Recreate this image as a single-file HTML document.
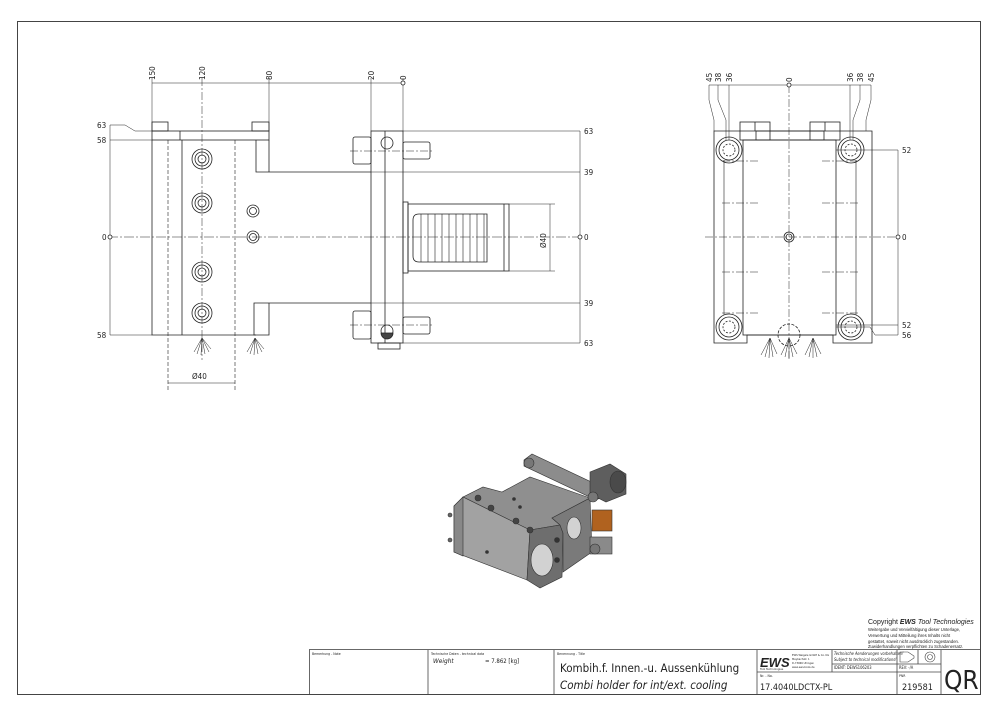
<!DOCTYPE html>
<html><head><meta charset="utf-8"><style>
html,body{margin:0;padding:0;background:#fff;}
svg{display:block;font-family:"DejaVu Sans Condensed","Liberation Sans",sans-serif;}
</style></head><body>
<svg width="1000" height="715" viewBox="0 0 1000 715" xmlns="http://www.w3.org/2000/svg">
<rect x="0" y="0" width="1000" height="715" fill="#fff"/>
<rect x="17.5" y="21.5" width="963" height="673" fill="none" stroke="#444" stroke-width="1"/>

<!-- FRONT VIEW -->
<g stroke="#222" stroke-width="0.8" fill="none">
  <line x1="152" y1="83" x2="403" y2="83" stroke-width="0.5"/>
  <g stroke-width="0.5">
    <line x1="152" y1="78" x2="152" y2="131"/>
    <line x1="202" y1="78" x2="202" y2="360" stroke-dasharray="8,2,2,2"/>
    <line x1="269" y1="78" x2="269" y2="131"/>
    <line x1="371" y1="78" x2="371" y2="131"/>
    <line x1="403" y1="78" x2="403" y2="131"/>
  </g>
  <circle cx="403" cy="83" r="2" fill="#fff"/>
  <g stroke-width="0.5">
    <line x1="110" y1="125" x2="125" y2="125"/><line x1="125" y1="125" x2="135" y2="131"/><line x1="135" y1="131" x2="152" y2="131"/>
    <line x1="110" y1="140" x2="152" y2="140"/>
    <line x1="110" y1="335" x2="152" y2="335"/>
    <line x1="110" y1="125" x2="110" y2="335"/>
    <line x1="108" y1="237" x2="580" y2="237" stroke-dasharray="10,2,2,2"/>
  </g>
  <circle cx="110" cy="237" r="2" fill="#fff"/>
  <rect x="152" y="131" width="117" height="9"/>
  <rect x="152" y="122" width="16" height="9"/>
  <rect x="252" y="122" width="17" height="9"/>
  <line x1="180" y1="131" x2="180" y2="140"/>
  <polyline points="152,140 152,335 256,335"/>
  <line x1="182" y1="140" x2="182" y2="335"/>
  <line x1="168" y1="140" x2="168" y2="390" stroke-dasharray="4,2" stroke-width="0.6"/>
  <line x1="235" y1="140" x2="235" y2="390" stroke-dasharray="4,2" stroke-width="0.6"/>
  <polyline points="256,140 256,172 371,172"/>
  <line x1="269" y1="140" x2="269" y2="172"/>
  <polyline points="371,303 254,303 254,335 269,335 269,303"/>
  <g>
    <circle cx="202" cy="159" r="10"/><circle cx="202" cy="159" r="7"/><circle cx="202" cy="159" r="4"/>
    <circle cx="202" cy="203" r="10"/><circle cx="202" cy="203" r="7"/><circle cx="202" cy="203" r="4"/>
    <circle cx="202" cy="272" r="10"/><circle cx="202" cy="272" r="7"/><circle cx="202" cy="272" r="4"/>
    <circle cx="202" cy="313" r="10"/><circle cx="202" cy="313" r="7"/><circle cx="202" cy="313" r="4"/>
    <circle cx="253" cy="211" r="6"/><circle cx="253" cy="211" r="3.5"/>
    <circle cx="253" cy="237" r="6"/><circle cx="253" cy="237" r="3.5"/>
  </g>
  <g stroke-width="0.5">
    <path d="M202,338 L194,352 M202,338 L197,354 M202,338 L201,355 M202,338 L205,354 M202,338 L209,352 M202,338 L211,349"/>
    <path d="M255,338 L247,352 M255,338 L250,354 M255,338 L254,355 M255,338 L258,354 M255,338 L262,352 M255,338 L264,349"/>
  </g>
  <line x1="168" y1="383" x2="235" y2="383" stroke-width="0.5"/>
  <rect x="371" y="131" width="32" height="212"/>
  <line x1="385" y1="131" x2="385" y2="343"/>
  <rect x="378" y="343" width="22" height="6"/>
  <circle cx="387" cy="143" r="6"/>
  <circle cx="387" cy="331" r="6"/>
  <path d="M381,333 a6,6 0 0 0 12,0 z" fill="#444"/>
  <rect x="353" y="137" width="18" height="27" rx="2"/>
  <rect x="403" y="142" width="27" height="17" rx="2"/>
  <rect x="353" y="311" width="18" height="28" rx="2"/>
  <rect x="403" y="317" width="27" height="17" rx="2"/>
  <line x1="350" y1="151" x2="432" y2="151" stroke-width="0.5" stroke-dasharray="8,2,2,2"/>
  <line x1="350" y1="325" x2="432" y2="325" stroke-width="0.5" stroke-dasharray="8,2,2,2"/>
  <rect x="403" y="202" width="5" height="71"/>
  <rect x="408" y="204" width="101" height="67"/>
  <line x1="504" y1="204" x2="504" y2="271"/>
  <path d="M413,220 q0,-6 6,-6 h68 v48 h-68 q-6,0 -6,-6 z"/>
  <g stroke-width="0.6">
    <line x1="421" y1="214" x2="421" y2="262"/><line x1="428" y1="214" x2="428" y2="262"/>
    <line x1="435" y1="214" x2="435" y2="262"/><line x1="442" y1="214" x2="442" y2="262"/>
    <line x1="449" y1="214" x2="449" y2="262"/><line x1="456" y1="214" x2="456" y2="262"/>
    <line x1="463" y1="214" x2="463" y2="262"/><line x1="470" y1="214" x2="470" y2="262"/>
    <line x1="477" y1="214" x2="477" y2="262"/><line x1="484" y1="214" x2="484" y2="262"/>
  </g>
  <line x1="550" y1="204" x2="550" y2="271" stroke-width="0.5"/>
  <line x1="509" y1="204" x2="555" y2="204" stroke-width="0.5"/>
  <line x1="509" y1="271" x2="555" y2="271" stroke-width="0.5"/>
  <g stroke-width="0.5">
    <line x1="403" y1="131" x2="580" y2="131"/>
    <line x1="371" y1="172" x2="580" y2="172"/>
    <line x1="371" y1="303" x2="580" y2="303"/>
    <line x1="403" y1="343" x2="580" y2="343"/>
    <line x1="580" y1="131" x2="580" y2="343"/>
  </g>
  <circle cx="580" cy="237" r="2" fill="#fff"/>
</g>
<g font-size="8" fill="#222">
  <text transform="translate(155,80) rotate(-90)">150</text>
  <text transform="translate(205,80) rotate(-90)">120</text>
  <text transform="translate(272,80) rotate(-90)">80</text>
  <text transform="translate(374,80) rotate(-90)">20</text>
  <text transform="translate(406,80) rotate(-90)">0</text>
  <text x="97" y="128">63</text><text x="97" y="143">58</text>
  <text x="102" y="240">0</text><text x="97" y="338">58</text>
  <text x="584" y="134">63</text><text x="584" y="175">39</text>
  <text x="584" y="240">0</text><text x="584" y="306">39</text>
  <text x="584" y="346">63</text>
  <text transform="translate(546,248) rotate(-90)">Ø40</text>
  <text x="192" y="379">Ø40</text>
</g>

<!-- SIDE VIEW -->
<g stroke="#222" stroke-width="0.8" fill="none">
  <line x1="709" y1="85" x2="871" y2="85" stroke-width="0.5"/>
  <g stroke-width="0.5">
    <path d="M709,85 L709,100 L714,120 L714,131"/>
    <path d="M718,85 L718,100 L726,120 L726,140"/>
    <path d="M729,85 L729,140"/>
    <path d="M850,85 L850,140"/>
    <path d="M860,85 L860,100 L853,120 L853,140"/>
    <path d="M871,85 L871,100 L866,120 L866,131"/>
    <line x1="789" y1="85" x2="789" y2="360" stroke-dasharray="8,2,2,2"/>
    <line x1="705" y1="237" x2="898" y2="237" stroke-dasharray="8,2,2,2"/>
    <line x1="836" y1="150" x2="898" y2="150"/>
    <line x1="836" y1="325" x2="898" y2="325"/>
    <path d="M836,327 L870,327 L875,335 L898,335"/>
    <line x1="898" y1="150" x2="898" y2="335"/>
  </g>
  <circle cx="789" cy="85" r="2" fill="#fff"/>
  <circle cx="898" cy="237" r="2" fill="#fff"/>
  <rect x="740" y="122" width="30" height="18"/><rect x="810" y="122" width="30" height="18"/>
  <line x1="755" y1="122" x2="755" y2="131"/><line x1="825" y1="122" x2="825" y2="131"/>
  <rect x="756" y="131" width="68" height="9"/>
  <path d="M714,131 H872 V343 H833 V335 H747 V343 H714 Z"/>
  <rect x="743" y="140" width="93" height="195"/>
  <line x1="724" y1="160" x2="724" y2="315" stroke-width="0.6"/>
  <line x1="856" y1="160" x2="856" y2="315" stroke-width="0.6"/>
  <g>
    <circle cx="729" cy="150" r="13"/><circle cx="729" cy="150" r="10"/><circle cx="729" cy="150" r="6" stroke-dasharray="2,1.5"/>
    <circle cx="851" cy="150" r="13"/><circle cx="851" cy="150" r="10"/><circle cx="851" cy="150" r="6" stroke-dasharray="2,1.5"/>
    <circle cx="729" cy="327" r="13"/><circle cx="729" cy="327" r="10"/><circle cx="729" cy="327" r="6" stroke-dasharray="2,1.5"/>
    <circle cx="851" cy="327" r="13"/><circle cx="851" cy="327" r="10"/><circle cx="851" cy="327" r="6" stroke-dasharray="2,1.5"/>
    <circle cx="789" cy="237" r="5"/><circle cx="789" cy="237" r="3"/>
    <circle cx="789" cy="335" r="11" stroke-dasharray="3,1.5"/>
  </g>
  <g stroke-width="0.5" stroke-dasharray="8,2,2,2">
    <line x1="722" y1="161" x2="758" y2="161"/><line x1="822" y1="161" x2="858" y2="161"/>
    <line x1="722" y1="203" x2="758" y2="203"/><line x1="822" y1="203" x2="858" y2="203"/>
    <line x1="722" y1="272" x2="758" y2="272"/><line x1="822" y1="272" x2="858" y2="272"/>
    <line x1="722" y1="313" x2="758" y2="313"/><line x1="822" y1="313" x2="858" y2="313"/>
  </g>
  <g stroke-width="0.5">
    <path d="M770,338 L761,355 M770,338 L765,357 M770,338 L769,358 M770,338 L773,357 M770,338 L777,354"/>
    <path d="M789,338 L781,355 M789,338 L785,357 M789,338 L789,358 M789,338 L793,357 M789,338 L797,354"/>
    <path d="M813,338 L805,355 M813,338 L809,357 M813,338 L813,358 M813,338 L817,357 M813,338 L821,354"/>
  </g>
</g>
<g font-size="8" fill="#222">
  <text transform="translate(712,82) rotate(-90)">45</text>
  <text transform="translate(721,82) rotate(-90)">38</text>
  <text transform="translate(732,82) rotate(-90)">36</text>
  <text transform="translate(792,82) rotate(-90)">0</text>
  <text transform="translate(853,82) rotate(-90)">36</text>
  <text transform="translate(863,82) rotate(-90)">38</text>
  <text transform="translate(874,82) rotate(-90)">45</text>
  <text x="902" y="153">52</text><text x="902" y="240">0</text>
  <text x="902" y="328">52</text><text x="902" y="338">56</text>
</g>

<!-- ISO VIEW -->
<g stroke="#333" stroke-width="0.6">
  <!-- flange bar -->
  <polygon points="524,460 532,454 604,488 604,496 596,500 524,466" fill="#8c8c8c"/>
  <circle cx="529" cy="463" r="5" fill="#777"/>
  <!-- cylinder -->
  <polygon points="590,472 610,464 626,474 626,494 606,502 590,494" fill="#5e5e5e"/>
  <ellipse cx="618" cy="482" rx="8" ry="11" fill="#4a4a4a"/>
  <!-- top face -->
  <polygon points="463,497 483,487 502,492 530,477 590,498 552,518 560,525 530,530" fill="#8f8f8f"/>
  <!-- front long face -->
  <polygon points="454,506 463,497 530,530 527,580 454,552" fill="#a2a2a2"/>
  <polygon points="454,506 463,497 463,556 454,552" fill="#888"/>
  <!-- end face -->
  <polygon points="530,530 560,525 563,533 562,577 540,588 527,580" fill="#6e6e6e"/>
  <!-- upper right face -->
  <polygon points="552,518 590,498 592,552 563,572 563,533 560,525" fill="#7a7a7a"/>
  <ellipse cx="542" cy="560" rx="11" ry="16" fill="#d2d2d2"/>
  <ellipse cx="574" cy="528" rx="7" ry="11" fill="#d2d2d2"/>
  <rect x="592" y="510" width="20" height="21" fill="#b0621f"/>
  <rect x="590" y="537" width="22" height="17" fill="#8a8a8a"/>
  <circle cx="595" cy="549" r="5" fill="#777"/>
  <circle cx="593" cy="497" r="5" fill="#777"/>
  <circle cx="450" cy="515" r="2" fill="#666"/><circle cx="450" cy="540" r="2" fill="#666"/>
  <circle cx="478" cy="498" r="3" fill="#444"/><circle cx="491" cy="508" r="3" fill="#444"/>
  <circle cx="516" cy="521" r="3" fill="#444"/><circle cx="530" cy="530" r="3" fill="#444"/>
  <circle cx="514" cy="499" r="1.5" fill="#333"/><circle cx="520" cy="507" r="1.5" fill="#333"/>
  <circle cx="487" cy="552" r="1.5" fill="#333"/>
  <circle cx="557" cy="540" r="2.5" fill="#333"/><circle cx="557" cy="560" r="2.5" fill="#333"/>
</g>

<!-- COPYRIGHT -->
<g font-family="Liberation Sans, sans-serif" fill="#222">
  <text x="868" y="624" font-size="7">Copyright <tspan font-weight="bold" font-style="italic">EWS</tspan> <tspan font-style="italic">Tool Technologies</tspan></text>
  <text x="868" y="631" font-size="4.2">Weitergabe und Vervielfältigung dieser Unterlage,</text>
  <text x="868" y="637" font-size="4.2">Verwertung und Mitteilung ihres Inhalts nicht</text>
  <text x="868" y="643" font-size="4.2">gestattet, soweit nicht ausdrücklich zugestanden.</text>
  <text x="868" y="648" font-size="4.2">Zuwiderhandlungen verpflichten zu Schadenersatz.</text>
</g>

<!-- TITLE BLOCK -->
<g stroke="#444" stroke-width="0.8" fill="none">
  <rect x="309.5" y="649.5" width="671" height="45"/>
  <line x1="428" y1="650" x2="428" y2="695"/>
  <line x1="554" y1="650" x2="554" y2="695"/>
  <line x1="757" y1="650" x2="757" y2="695"/>
  <line x1="941" y1="650" x2="941" y2="695"/>
  <line x1="757" y1="672" x2="941" y2="672"/>
  <line x1="832" y1="650" x2="832" y2="672"/>
  <line x1="897" y1="650" x2="897" y2="695"/>
  <line x1="832" y1="664" x2="941" y2="664"/>
  <line x1="918" y1="650" x2="918" y2="664"/>
  <path d="M900,652 h8 l6,4 v2 l-6,4 h-8 z" stroke-width="0.6"/>
  <circle cx="930" cy="657" r="5" stroke-width="0.6"/><circle cx="930" cy="657" r="2.5" stroke-width="0.6"/>
</g>
<g fill="#222">
  <text x="312" y="655" font-size="3.5">Bemerkung - Note</text>
  <text x="431" y="655" font-size="3.5">Technische Daten - technical data</text>
  <text x="433" y="663" font-size="6.5" font-style="italic">Weight</text>
  <text x="485" y="663" font-size="6">= 7.862 [kg]</text>
  <text x="557" y="655" font-size="3.5">Benennung - Title</text>
  <text x="560" y="672" font-size="11.5">Kombih.f. Innen.-u. Aussenkühlung</text>
  <text x="560" y="689" font-size="11.5" font-style="italic">Combi holder for int/ext. cooling</text>
  <text x="760" y="667" font-size="13" font-weight="bold" font-style="italic" font-family="Liberation Sans, sans-serif">EWS</text>
  <text x="760" y="670" font-size="3">Tool Technologies</text>
  <text x="792" y="656" font-size="2.8">EWS Weigele GmbH &amp; Co. KG</text>
  <text x="792" y="660" font-size="2.8">Maybachstr. 1</text>
  <text x="792" y="664" font-size="2.8">D-73066 Uhingen</text>
  <text x="792" y="668" font-size="2.8">www.ews-tools.de</text>
  <text x="834" y="655" font-size="4" font-style="italic">Technische Aenderungen vorbehalten!</text>
  <text x="834" y="661" font-size="4" font-style="italic">Subject to technical modifications!</text>
  <text x="834" y="669" font-size="4">IDENT: DEWS106203</text>
  <text x="899" y="669" font-size="4">REV: -/A</text>
  <text x="760" y="677" font-size="3.5">Nr. - No.</text>
  <text x="760" y="690" font-size="9">17.4040LDCTX-PL</text>
  <text x="899" y="677" font-size="3.5">PNR</text>
  <text x="902" y="690" font-size="9">219581</text>
  <text x="944" y="689" font-size="26" font-family="DejaVu Sans Condensed, sans-serif">QR</text>
</g>
</svg>
</body></html>
